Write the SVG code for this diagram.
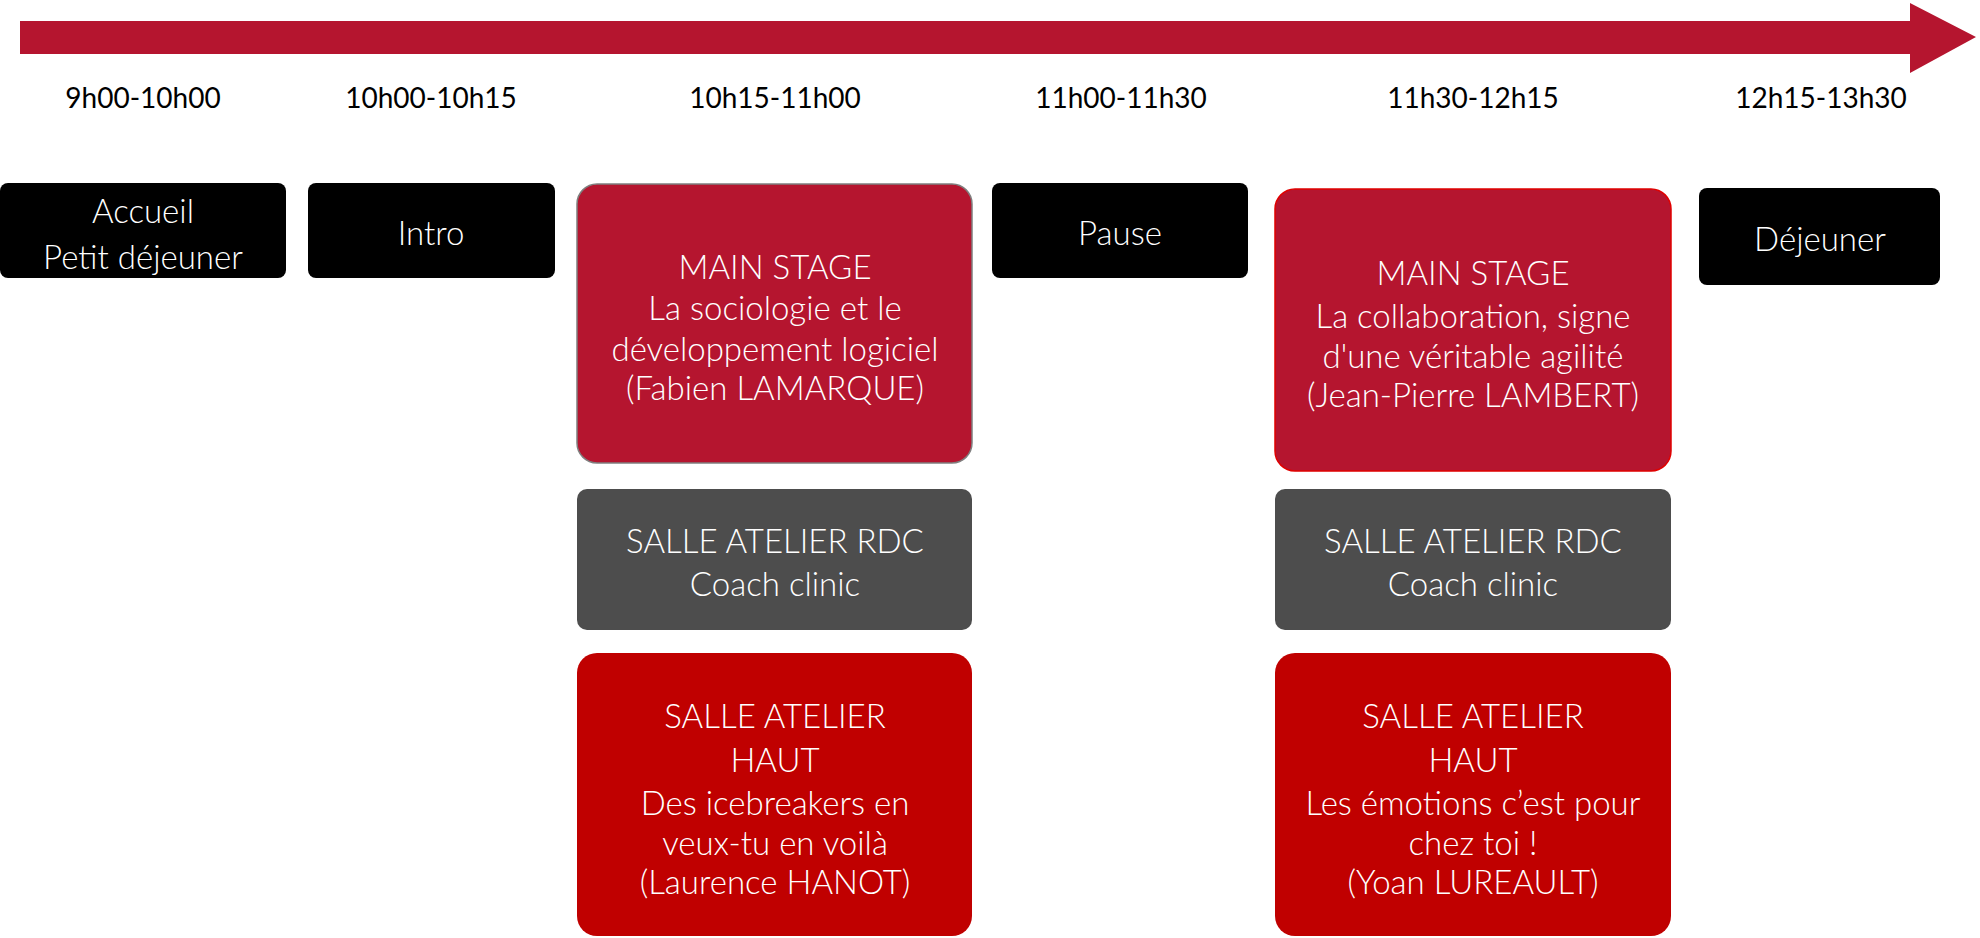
<svg xmlns="http://www.w3.org/2000/svg" width="1980" height="938" viewBox="0 0 1980 938">
<style>
text{font-family:Lato,"Open Sans",sans-serif;font-weight:300;text-anchor:middle;dominant-baseline:central}
.t{font-size:28px;font-weight:400;fill:#000}
.b{font-size:33px;fill:#fff}
.blk{fill:#000}
.ms{fill:#B5152F}
.g{fill:#4D4D4D}
.r{fill:#C00000}
</style>
<rect width="1980" height="938" fill="#fff"/>
<g id="timeline">
<polygon points="20,21 1910,21 1910,3 1976,37 1910,73 1910,54 20,54" fill="#B5152F"/>
</g>
<g id="times">
<text class="t" x="143" y="97">9h00-10h00</text>
<text class="t" x="431" y="97">10h00-10h15</text>
<text class="t" x="775" y="97">10h15-11h00</text>
<text class="t" x="1121" y="97">11h00-11h30</text>
<text class="t" x="1473" y="97">11h30-12h15</text>
<text class="t" x="1821" y="97">12h15-13h30</text>
</g>
<g id="connectors"></g>
<g id="accueil"><rect class="blk" x="0" y="183" width="286" height="95" rx="8"/><text class="b" x="143" y="210">Accueil</text><text class="b" x="143" y="256">Petit déjeuner</text></g>
<g id="intro"><rect class="blk" x="308" y="183" width="247" height="95" rx="8"/><text class="b" x="431" y="232">Intro</text></g>
<g id="main1"><rect class="ms" x="577" y="184" width="395" height="279" rx="20" stroke="#7f7f7f" stroke-width="1.5"/><text class="b" x="775" y="266">MAIN STAGE</text><text class="b" x="775" y="307">La sociologie et le</text><text class="b" x="775" y="348">développement logiciel</text><text class="b" x="775" y="387">(Fabien LAMARQUE)</text></g>
<g id="pause"><rect class="blk" x="992" y="183" width="256" height="95" rx="8"/><text class="b" x="1120" y="232">Pause</text></g>
<g id="main2"><rect class="ms" x="1275" y="189" width="396" height="282" rx="20" stroke="#E00000" stroke-width="1.5"/><text class="b" x="1473" y="272">MAIN STAGE</text><text class="b" x="1473" y="315">La collaboration, signe</text><text class="b" x="1473" y="355">d'une véritable agilité</text><text class="b" x="1473" y="394">(Jean-Pierre LAMBERT)</text></g>
<g id="dejeuner"><rect class="blk" x="1699" y="188" width="241" height="97" rx="8"/><text class="b" x="1820" y="238">Déjeuner</text></g>
<g id="rdc1"><rect class="g" x="577" y="489" width="395" height="141" rx="10"/><text class="b" x="775" y="540">SALLE ATELIER RDC</text><text class="b" x="775" y="583">Coach clinic</text></g>
<g id="rdc2"><rect class="g" x="1275" y="489" width="396" height="141" rx="10"/><text class="b" x="1473" y="540">SALLE ATELIER RDC</text><text class="b" x="1473" y="583">Coach clinic</text></g>
<g id="haut1"><rect class="r" x="577" y="653" width="395" height="283" rx="20"/><text class="b" x="775" y="715">SALLE ATELIER</text><text class="b" x="775" y="759">HAUT</text><text class="b" x="775" y="802">Des icebreakers en</text><text class="b" x="775" y="842">veux-tu en voilà</text><text class="b" x="775" y="881">(Laurence HANOT)</text></g>
<g id="haut2"><rect class="r" x="1275" y="653" width="396" height="283" rx="20"/><text class="b" x="1473" y="715">SALLE ATELIER</text><text class="b" x="1473" y="759">HAUT</text><text class="b" x="1473" y="802">Les émotions c’est pour</text><text class="b" x="1473" y="842">chez toi !</text><text class="b" x="1473" y="881">(Yoan LUREAULT)</text></g>
</svg>
